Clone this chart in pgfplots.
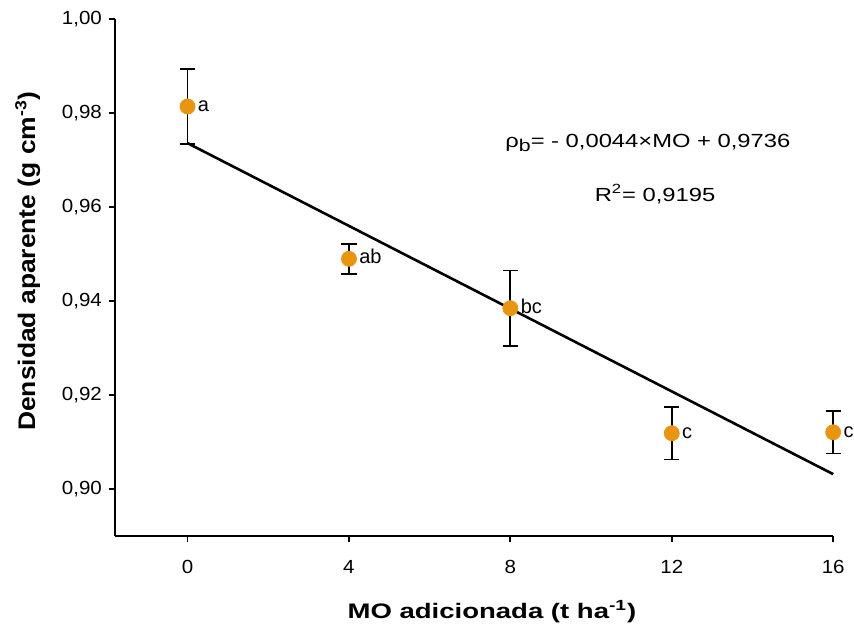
\documentclass[border=0pt]{standalone}
\usepackage{fontspec}
\setmainfont{Liberation Sans}
\newfontfamily\widefont[FakeStretch=1.25]{Liberation Sans}
\newfontfamily\xlabfont[FakeStretch=1.31]{Liberation Sans}
\newfontfamily\ylabfont[FakeStretch=1.1]{Liberation Sans}
\newfontfamily\tickfont[FakeStretch=1.08]{Liberation Sans}
\usepackage{pgfplots}
\pgfplotsset{compat=1.18}
\definecolor{orng}{RGB}{232,150,18}

\pgfplotstableread{
x   y       e       lab
0   0.9814  0.0080  a
4   0.9490  0.0032  ab
8   0.9385  0.0080  bc
12  0.9119  0.0056  c
16  0.9121  0.0045  c
}\densdata

\begin{document}
\begin{tikzpicture}
\begin{axis}[
  scale only axis, width=359pt, height=258.5pt,
  xmin=-1.8, xmax=16, ymin=0.89, ymax=1.00,
  axis x line*=bottom, axis y line*=left,
  axis line style={line width=0.9pt,-},
  tick align=outside, major tick length=3pt,
  tick style={black,line width=0.9pt},
  xtick={0,4,8,12,16},
  ytick={0.90,0.92,0.94,0.96,0.98,1.00},
  yticklabel style={/pgf/number format/.cd,fixed,fixed zerofill,precision=2,use comma},
  xticklabel style={yshift=-5.5pt},
  /pgf/number format/assume math mode=true,
  tick label style={font=\tickfont\fontsize{9.5}{11}\selectfont},
  xlabel={MO adicionada (t ha\textsuperscript{-1})},
  ylabel={Densidad aparente (g cm\textsuperscript{-3})},
  xlabel style={font=\xlabfont\fontsize{10.5}{12}\selectfont\bfseries,
    at={(axis description cs:0.525,-0.1586)},anchor=base},
  ylabel style={font=\ylabfont\fontsize{12}{14}\selectfont\bfseries,
    at={(axis description cs:-0.111,0.532)},anchor=base},
  clip=false,
]
\addplot[black,line width=1.3pt] coordinates {(0,0.9736) (16,0.9032)};
\addplot[
  only marks, mark=*, mark size=3.75pt,
  mark options={draw=orng,fill=orng},
  error bars/.cd, y dir=both, y explicit,
  error bar style={black,line width=0.9pt},
  error mark options={rotate=90,mark size=3.8pt,black,line width=0.9pt},
] table[x=x,y=y,y error=e] {\densdata};
\addplot[
  only marks, mark=none,
  point meta=explicit symbolic,
  nodes near coords,
  nodes near coords style={anchor=base west,xshift=5pt,yshift=-2.5pt,
    font=\fontsize{10}{12}\selectfont,text=black,inner sep=0pt},
] table[x=x,y=y,meta=lab] {\densdata};
\node[font=\widefont\fontsize{9.5}{11}\selectfont,anchor=base] at (rel axis cs:0.742,0.751)
  {ρ\raisebox{-0.35ex}{\fontsize{8.5}{9}\selectfont b}= - 0,0044×MO + 0,9736};
\node[font=\widefont\fontsize{9.5}{11}\selectfont,anchor=base] at (rel axis cs:0.752,0.648)
  {R\textsuperscript{2}= 0,9195};
\path (rel axis cs:-0.160,-0.1663) rectangle (rel axis cs:1.029,1.0368);
\end{axis}
\end{tikzpicture}
\end{document}
